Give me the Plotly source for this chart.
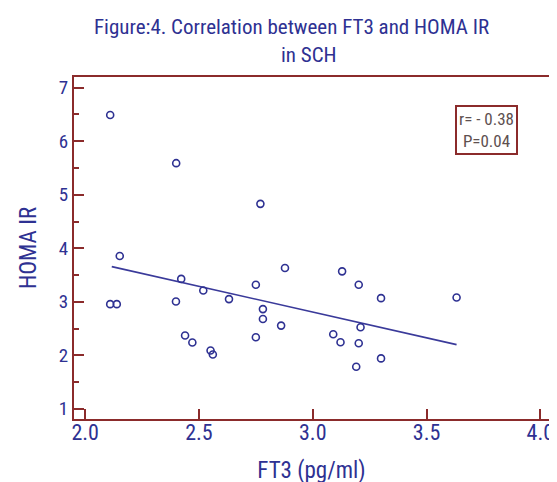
import plotly.graph_objects as go

ft3 = [2.11, 2.40, 2.77, 2.152, 2.11, 2.139, 2.422, 2.399, 2.519, 2.632,
       2.75, 2.781, 2.781, 2.861, 2.75, 2.878, 2.439, 2.471, 2.551, 2.561,
       3.129, 3.202, 3.30, 3.632, 3.21, 3.09, 3.122, 3.202, 3.30, 3.191]
homa = [6.49, 5.59, 4.83, 3.855, 2.956, 2.956, 3.428, 3.006, 3.21, 3.05,
        3.317, 2.863, 2.678, 2.555, 2.337, 3.632, 2.369, 2.239, 2.09, 2.016,
        3.569, 3.317, 3.068, 3.081, 2.523, 2.393, 2.245, 2.226, 1.942, 1.786]
fit_x = [2.117, 3.632]
fit_y = [3.657, 2.20]
x_ticks = [2.0, 2.5, 3.0, 3.5, 4.0]
x_labels = ["2.0", "2.5", "3.0", "3.5", "4.0"]
y_ticks = [1, 2, 3, 4, 5, 6, 7]
title_lines = ["Figure:4. Correlation between FT3 and HOMA IR", "in SCH"]
stats_text = "r= - 0.38<br>P=0.04"

NAVY = "#2e3192"
FRAME = "#8b2b2b"
FONT = "Roboto Condensed, Liberation Sans Narrow, Arial Narrow, sans-serif"

fig = go.Figure()
fig.add_trace(go.Scatter(x=fit_x, y=fit_y, mode="lines",
                         line=dict(color="#3a3a9a", width=1.6),
                         showlegend=False, hoverinfo="skip"))
fig.add_trace(go.Scatter(x=ft3, y=homa, mode="markers",
                         marker=dict(symbol="circle-open", size=7,
                                     color=NAVY, line=dict(width=1.6, color=NAVY)),
                         showlegend=False))

fig.update_layout(
    width=557, height=482,
    paper_bgcolor="white", plot_bgcolor="white",
    margin=dict(l=66, r=11, t=69, b=69),
    font=dict(family=FONT, color=NAVY, size=16),
)
fig.update_xaxes(range=[1.951, 4.038], tickvals=x_ticks, ticktext=x_labels,
                 ticks="inside", ticklen=10, tickcolor=FRAME, tickwidth=2,
                 showline=True, linecolor=FRAME, linewidth=2, mirror=True,
                 showgrid=False, zeroline=False,
                 tickfont=dict(size=22, color=NAVY),
                 ticklabelstandoff=-7,
                 title=dict(text="FT3 (pg/ml)", font=dict(size=23, color=NAVY), standoff=17))
fig.update_yaxes(range=[0.81, 7.2], tickvals=y_ticks,
                 ticks="inside", ticklen=10, tickcolor=FRAME, tickwidth=2,
                 minor=dict(ticks="inside", ticklen=5, tickcolor=FRAME, tickwidth=2, dtick=0.5),
                 showline=True, linecolor=FRAME, linewidth=2, mirror=True,
                 showgrid=False, zeroline=False,
                 tickfont=dict(size=19, color=NAVY),
                 title=dict(text="HOMA IR", font=dict(size=23, color=NAVY), standoff=16))

fig.add_annotation(xref="paper", yref="paper", x=0.4583, y=1.186,
                   xanchor="center", yanchor="top", showarrow=False,
                   text=title_lines[0], font=dict(size=21, color=NAVY, family=FONT))
fig.add_annotation(xref="paper", yref="paper", x=0.494, y=1.104,
                   xanchor="center", yanchor="top", showarrow=False,
                   text=title_lines[1], font=dict(size=21, color=NAVY, family=FONT))

fig.add_annotation(xref="paper", yref="paper", x=0.868, y=0.845,
                   xanchor="center", yanchor="middle",
                   text=stats_text, showarrow=False, align="center",
                   font=dict(size=17, color="#5e5050", family=FONT),
                   bordercolor=FRAME, borderwidth=2, borderpad=2,
                   bgcolor="white")

fig.write_html("out.html")
